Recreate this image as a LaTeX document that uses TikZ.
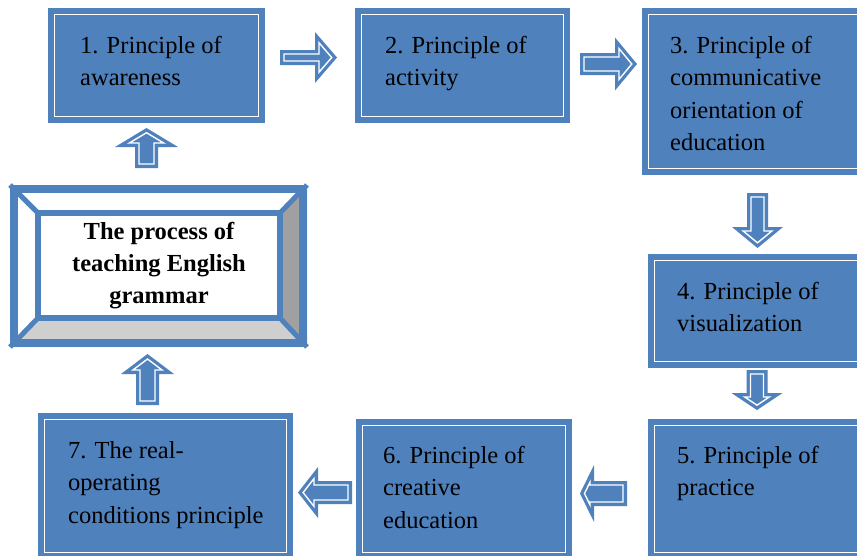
\documentclass[tikz,border=0pt]{standalone}
\usepackage{fontspec}
\setmainfont{Liberation Serif}
\newfontfamily\boxserif{Liberation Serif}
\definecolor{boxblue}{HTML}{4F81BD}
\definecolor{bevdark}{HTML}{A0A0A0}
\definecolor{bevlight}{HTML}{CFCFCF}
\tikzset{
  pbox/.style={rectangle, inner sep=0pt, fill=boxblue, draw=white, line width=1.6pt,
    preaction={draw=boxblue, line width=13pt}},
  ptext/.style={anchor=base west, inner sep=0pt, font=\boxserif\fontsize{24.5}{32.5}\selectfont},
  barrowfill/.style={fill=boxblue},
  barrowline/.style={draw=white, line width=1.4pt, line join=miter},
}
% x y angle length bodyhalf headhalf headlength
\newcommand{\blockarrow}[7]{%
  \pgfmathsetmacro{\baQ}{sqrt((#7)^2+(#6)^2)}%
  \pgfmathsetmacro{\baTip}{#4-4*\baQ/#6}%
  \pgfmathsetmacro{\baHy}{#6*(#7-4)/#7-4*\baQ/#7}%
  \begin{scope}[shift={(#1,#2)}, rotate=#3]
  \path[barrowfill] (0,-#5) -- (#4-#7,-#5) -- (#4-#7,-#6) -- (#4,0)
    -- (#4-#7,#6) -- (#4-#7,#5) -- (0,#5) -- cycle;
  \path[barrowline] (4,-#5+4) -- (#4-#7+4,-#5+4) -- (#4-#7+4,-\baHy) -- (\baTip,0)
    -- (#4-#7+4,\baHy) -- (#4-#7+4,#5-4) -- (4,#5-4) -- cycle;
  \end{scope}}
\begin{document}
\begin{tikzpicture}[x=1pt,y=-1pt]
\useasboundingbox (0,0) rectangle (857,555);
\clip (0,0) rectangle (857,555);
\fill[white] (0,0) rectangle (857,555);

% principle boxes (white-line rectangles; blue margin added by preaction)
\node[pbox, minimum width=204pt, minimum height=102pt] (b1) at (156.5,65.5) {};
\node[pbox, minimum width=202pt, minimum height=102pt] (b2) at (462.5,65.5) {};
\node[pbox, minimum width=211pt, minimum height=154pt] (b3) at (754,91.5) {};
\node[pbox, minimum width=205pt, minimum height=101pt] (b4) at (757,311) {};
\node[pbox, minimum width=205pt, minimum height=127pt] (b5) at (757,489) {};
\node[pbox, minimum width=203pt, minimum height=127pt] (b6) at (464,489) {};
\node[pbox, minimum width=242pt, minimum height=133pt] (b7) at (165.5,486) {};

% texts
\node[ptext] (t1) at (80,53) {\parbox[t]{300pt}{1. Principle of\\awareness}};
\node[ptext] (t2) at (385,53) {\parbox[t]{300pt}{2. Principle of\\activity}};
\node[ptext] (t3) at (670,53) {\parbox[t]{300pt}{3. Principle of\\communicative\\orientation of\\education}};
\node[ptext] (t4) at (677,299) {\parbox[t]{300pt}{4. Principle of\\visualization}};
\node[ptext] (t5) at (677,463) {\parbox[t]{300pt}{5. Principle of\\practice}};
\node[ptext] (t6) at (383,463) {\parbox[t]{300pt}{6. Principle of\\creative\\education}};
\node[ptext] (t7) at (68,458) {\parbox[t]{300pt}{7. The real-\\operating\\conditions principle}};

% central bevelled frame
\coordinate (o1) at (10,185);  \coordinate (o2) at (307,185);
\coordinate (o3) at (307,347); \coordinate (o4) at (10,347);
\coordinate (i1) at (38,213);  \coordinate (i2) at (280,213);
\coordinate (i3) at (280,318); \coordinate (i4) at (38,318);
\fill[white] (o1) -- (o2) -- (i2) -- (i1) -- cycle;
\fill[white] (o1) -- (i1) -- (i4) -- (o4) -- cycle;
\fill[bevdark] (o2) -- (o3) -- (i3) -- (i2) -- cycle;
\fill[bevlight] (o4) -- (o3) -- (i3) -- (i4) -- cycle;
\draw[boxblue, line width=8pt] (14,189) rectangle (303,343);
\draw[boxblue, line width=5pt] (o1) -- (i1) (o2) -- (i2) (o3) -- (i3) (o4) -- (i4);
\node[draw=boxblue, line width=6pt, fill=white, minimum width=242pt, minimum height=105pt,
  inner sep=0pt, align=center, font=\boxserif\bfseries\fontsize{24.5}{32}\selectfont]
  (c) at (159,265.5) {The process of\\teaching English\\grammar};

% block arrows
\blockarrow{280}{57.5}{0}{57}{7.5}{25.5}{22}
\blockarrow{580}{64}{0}{57}{11}{26.5}{22}
\blockarrow{757.5}{193}{-90}{55}{10.5}{25.5}{21}
\blockarrow{757}{370}{-90}{40}{10.5}{25.5}{17}
\blockarrow{627}{493.5}{180}{47}{12.5}{28.5}{14}
\blockarrow{352}{492.5}{180}{54}{11.5}{25.5}{20}
\blockarrow{147.5}{405}{90}{51}{11.5}{26.5}{20}
\blockarrow{146.5}{168}{90}{40}{11.5}{31.5}{19}
\end{tikzpicture}
\end{document}
